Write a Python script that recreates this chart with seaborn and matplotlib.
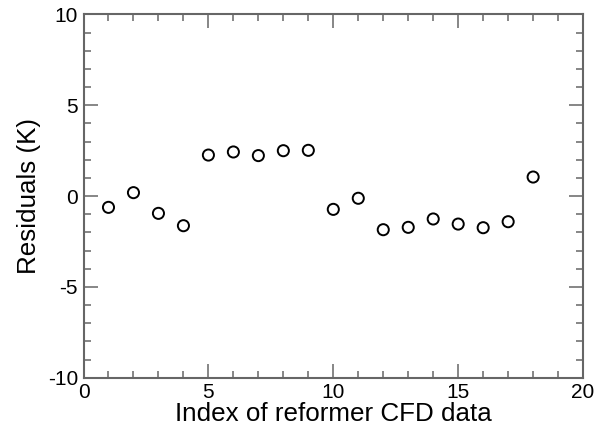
import matplotlib
matplotlib.use("Agg")
import matplotlib.pyplot as plt
from matplotlib.ticker import MultipleLocator
import seaborn as sns
import pandas as pd

# Residuals of the reformer temperature model at each CFD data point
index = list(range(1, 19))
residuals = [-0.62, 0.19, -0.95, -1.63, 2.26, 2.43, 2.23, 2.50, 2.52,
             -0.73, -0.12, -1.85, -1.72, -1.26, -1.54, -1.74, -1.41, 1.05]

df = pd.DataFrame({"idx": index, "res": residuals})

sns.set_theme(style="ticks")
plt.rcParams["font.family"] = ["Liberation Sans", "DejaVu Sans"]
plt.rcParams["axes.unicode_minus"] = False
plt.rcParams["text.color"] = "black"
plt.rcParams["axes.labelcolor"] = "black"
plt.rcParams["xtick.labelcolor"] = "black"
plt.rcParams["ytick.labelcolor"] = "black"

fig = plt.figure(figsize=(6.06, 4.30), dpi=100)
ax = fig.add_axes([0.1378, 0.1216, 0.8244, 0.8447])

sns.scatterplot(data=df, x="idx", y="res", ax=ax, marker="o", s=64,
                facecolor="none", edgecolor="black", linewidth=1.4)

ax.set_xlim(0, 20)
ax.set_ylim(-10, 10)
ax.xaxis.set_major_locator(MultipleLocator(5))
ax.xaxis.set_minor_locator(MultipleLocator(1))
ax.yaxis.set_major_locator(MultipleLocator(5))
ax.yaxis.set_minor_locator(MultipleLocator(1))

axis_col = "#666666"
for sp in ax.spines.values():
    sp.set_visible(True)
    sp.set_color(axis_col)
    sp.set_linewidth(1.5)

ax.tick_params(which="both", direction="in", top=True, right=True,
               color=axis_col, width=1.1, labelcolor="black")
ax.tick_params(which="major", length=10, labelsize=15, pad=4)
ax.tick_params(which="minor", length=5)

ax.set_xlabel("Index of reformer CFD data", fontsize=18.7, labelpad=0,
              color="black")
ax.set_ylabel("Residuals (K)", fontsize=18.7, labelpad=5, color="black")

fig.savefig("out.png", dpi=100, facecolor="white")
